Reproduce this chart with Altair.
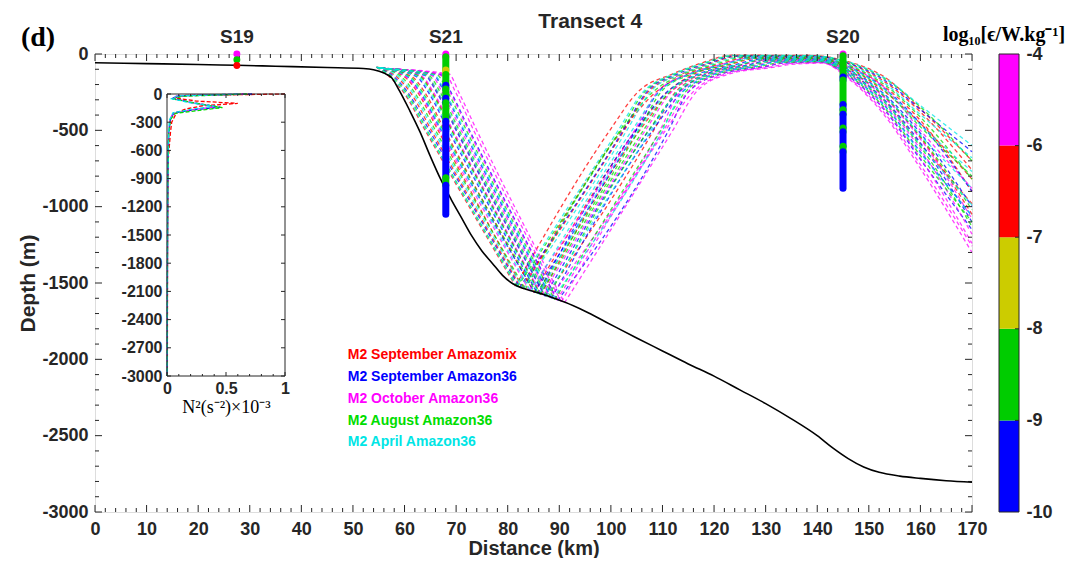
import altair as alt
import pandas as pd

DARK = "#262626"
SANS = "Liberation Sans"
SERIF = "Liberation Serif"
W, H = 877, 458

# ---------------- axes ticks ----------------
X_MAJOR = list(range(0, 171, 10))
X_MINOR = [v for v in range(0, 171, 2) if v % 10]
Y_MAJOR = list(range(-3000, 1, 500))
Y_MINOR = [v for v in range(-3000, 1, 100) if v % 500]

# ---------------- bathymetry ----------------
BATHY_X = [0, 10, 20, 27.5, 35, 45, 52, 54, 56, 57.5, 59, 61, 63, 65, 67, 69, 71, 73, 75, 77,
           79, 81, 83, 85, 87, 89, 91, 95, 99, 105, 110, 115, 120, 125, 130, 135, 140, 143, 146, 149,
           152, 156, 160, 165, 170]
BATHY_Z = [-57, -63, -69, -74, -80, -88, -95, -103, -125, -155, -240, -370, -510, -670, -820, -950, -1070, -1190, -1290, -1370,
           -1450, -1505, -1535, -1555, -1575, -1600, -1625, -1685, -1755, -1860, -1945, -2030, -2110, -2200, -2290, -2390, -2500, -2580, -2650, -2705,
           -2740, -2765, -2780, -2795, -2805]

# ---------------- runs / ray paths ----------------
RUNS = ["M2 September Amazomix", "M2 September Amazon36", "M2 October Amazon36",
        "M2 August Amazon36", "M2 April Amazon36"]
RUN_COLORS = ["#ff0000", "#0000ff", "#ff00ff", "#00dd00", "#00e5e5"]

# each ray: x (km) and depth (m); vertex 4 is the bottom reflection
RAYS_SEP_AMAZOMIX = [
    ([54.5, 57.1, 59.8, 64.0, 81.5, 99.8, 105.2, 112.0, 117.5, 123.5, 139.0, 146, 153, 160, 170],
     [-85, -150, -250, -500, -1520, -500, -250, -130, -60, -8, -10, -50, -150, -360, -700]),
    ([54.7, 58.5, 61.1, 65.2, 82.6, 102.6, 107.2, 113.8, 119.2, 124.8, 139.2, 146, 153, 160, 170],
     [-88, -150, -250, -500, -1533, -500, -250, -130, -63, -15, -16, -63, -180, -380, -760]),
    ([54.9, 60.0, 62.5, 66.5, 83.0, 102.2, 108.7, 114.8, 121.2, 126.4, 139.5, 146, 153, 160, 170],
     [-88, -150, -250, -500, -1540, -500, -250, -130, -66, -23, -22, -78, -213, -435, -900]),
    ([55.1, 61.5, 63.9, 67.8, 85.1, 104.9, 110.9, 116.2, 123.0, 127.9, 139.8, 146, 153, 160, 170],
     [-90, -150, -250, -500, -1562, -500, -250, -130, -70, -31, -29, -92, -245, -455, -820]),
    ([55.3, 63.1, 65.4, 69.2, 86.4, 105.6, 111.5, 117.7, 125.1, 129.5, 140.0, 146, 153, 160, 170],
     [-90, -145, -250, -500, -1577, -500, -250, -130, -73, -39, -36, -107, -280, -548, -1050]),
    ([55.4, 64.2, 66.4, 70.2, 87.4, 108.3, 112.5, 118.8, 126.5, 130.6, 140.2, 146, 153, 160, 170],
     [-92, -140, -250, -500, -1588, -500, -250, -130, -76, -45, -41, -118, -305, -590, -980]),
]
RAYS_SEP_AMAZON36 = [
    ([54.6, 58.0, 60.6, 64.8, 82.3, 102.4, 106.9, 113.0, 118.7, 124.5, 139.2, 146, 153, 160, 170],
     [-86, -150, -250, -500, -1529, -500, -250, -130, -62, -13, -14, -59, -170, -364, -640]),
    ([55.0, 60.6, 63.0, 67.1, 85.2, 104.9, 109.2, 115.4, 121.9, 127.0, 139.6, 146, 153, 160, 170],
     [-89, -150, -250, -500, -1562, -500, -250, -130, -68, -26, -25, -83, -225, -456, -900]),
    ([55.2, 62.3, 64.6, 68.5, 85.8, 104.8, 110.8, 117.0, 124.1, 128.7, 139.9, 146, 153, 160, 170],
     [-90, -148, -250, -500, -1570, -500, -250, -130, -71, -35, -33, -100, -263, -519, -1000]),
    ([55.4, 64.0, 66.2, 70.0, 87.2, 107.4, 113.2, 118.6, 126.2, 130.4, 140.2, 146, 153, 160, 170],
     [-91, -142, -250, -500, -1586, -500, -250, -130, -75, -44, -40, -116, -300, -582, -1100]),
    ([55.6, 65.6, 67.7, 71.4, 88.5, 108.1, 113.8, 120.1, 128.2, 132.0, 140.5, 146, 153, 160, 170],
     [-92, -138, -250, -500, -1601, -500, -250, -130, -79, -52, -47, -131, -335, -641, -1060]),
    ([55.8, 67.0, 69.0, 72.6, 89.7, 111.2, 115.0, 121.5, 130.0, 133.4, 140.7, 146, 153, 160, 170],
     [-94, -135, -250, -500, -1615, -500, -250, -130, -82, -60, -53, -145, -365, -691, -1150]),
]
RAYS_OCT_AMAZON36 = [
    ([54.9, 60.3, 62.8, 66.8, 84.2, 104.6, 109.0, 115.2, 121.6, 126.8, 139.6, 146, 153, 160, 170],
     [-89, -150, -250, -500, -1551, -500, -250, -130, -67, -25, -24, -81, -220, -500, -880]),
    ([55.3, 63.3, 65.6, 69.4, 86.6, 106.7, 111.7, 117.9, 125.3, 129.7, 140.1, 146, 153, 160, 170],
     [-91, -145, -250, -500, -1579, -500, -250, -130, -74, -40, -37, -109, -285, -557, -1080]),
    ([55.6, 65.2, 67.3, 71.0, 88.2, 109.5, 113.4, 119.7, 127.7, 131.6, 140.4, 146, 153, 160, 170],
     [-93, -140, -250, -500, -1597, -500, -250, -130, -78, -50, -45, -127, -325, -624, -1180]),
    ([55.8, 66.8, 68.8, 72.4, 89.5, 110.2, 114.9, 121.3, 129.7, 133.2, 140.7, 146, 153, 160, 170],
     [-94, -136, -250, -500, -1612, -500, -250, -130, -81, -58, -52, -142, -360, -683, -1240]),
    ([55.9, 67.9, 69.9, 73.4, 90.4, 110.6, 115.9, 122.3, 131.1, 134.3, 140.9, 146, 153, 160, 170],
     [-95, -133, -250, -500, -1623, -500, -250, -130, -84, -64, -57, -153, -385, -725, -1259]),
    ([56.0, 68.6, 70.5, 74.0, 91.0, 112.0, 116.5, 123.0, 132.0, 135.0, 141.0, 146, 153, 160, 170],
     [-96, -130, -250, -500, -1630, -500, -250, -130, -85, -68, -60, -160, -400, -750, -1300]),
]
RAYS_AUG_AMAZON36 = [
    ([54.6, 57.6, 60.3, 64.4, 81.9, 101.8, 106.5, 112.5, 118.1, 124.0, 139.1, 146, 153, 160, 170],
     [-86, -150, -250, -500, -1524, -500, -250, -130, -61, -10, -12, -54, -160, -347, -700]),
    ([54.8, 59.4, 61.9, 66.0, 83.4, 102.0, 108.1, 114.2, 120.4, 125.8, 139.4, 146, 153, 160, 170],
     [-88, -150, -250, -500, -1542, -500, -250, -130, -65, -20, -20, -72, -200, -414, -820]),
    ([55.0, 61.1, 63.5, 67.5, 85.6, 105.4, 109.7, 115.8, 122.6, 127.5, 139.7, 146, 153, 160, 170],
     [-90, -150, -250, -500, -1566, -500, -250, -130, -69, -29, -28, -89, -238, -477, -800]),
    ([55.3, 62.9, 65.2, 69.1, 86.3, 106.3, 111.3, 117.6, 124.8, 129.3, 140.0, 146, 153, 160, 170],
     [-91, -146, -250, -500, -1575, -500, -250, -130, -73, -38, -35, -105, -275, -540, -1020]),
    ([55.5, 64.7, 66.9, 70.6, 87.8, 107.3, 112.9, 119.3, 127.1, 131.1, 140.3, 146, 153, 160, 170],
     [-92, -141, -250, -500, -1593, -500, -250, -130, -77, -48, -43, -123, -315, -607, -1130]),
    ([55.7, 66.3, 68.4, 72.0, 89.1, 109.7, 114.4, 120.8, 129.1, 132.7, 140.6, 146, 153, 160, 170],
     [-94, -137, -250, -500, -1608, -500, -250, -130, -80, -56, -50, -138, -350, -666, -1100]),
]
RAYS_APR_AMAZON36 = [
    ([54.5, 57.3, 60.0, 64.2, 81.7, 101.4, 106.2, 112.2, 117.8, 123.7, 139.0, 146, 153, 160, 170],
     [-85, -150, -250, -500, -1522, -500, -250, -130, -61, -9, -11, -52, -155, -338, -600]),
    ([54.7, 58.9, 61.5, 65.6, 83.0, 103.1, 107.6, 113.7, 119.8, 125.3, 139.3, 146, 153, 160, 170],
     [-87, -150, -250, -500, -1538, -500, -250, -130, -64, -18, -18, -68, -190, -397, -680]),
    ([55.0, 60.8, 63.2, 67.2, 84.5, 104.1, 109.3, 115.4, 122.1, 127.1, 139.6, 146, 153, 160, 170],
     [-89, -150, -250, -500, -1555, -500, -250, -130, -68, -27, -26, -85, -230, -464, -770]),
    ([55.2, 62.6, 64.9, 68.8, 86.1, 105.3, 111.1, 117.4, 124.5, 129.1, 140.0, 146, 153, 160, 170],
     [-90, -147, -250, -500, -1573, -500, -250, -130, -72, -37, -34, -103, -270, -532, -880]),
    ([55.4, 64.3, 66.5, 70.3, 87.5, 107.8, 112.7, 119.0, 126.7, 130.8, 140.3, 146, 153, 160, 170],
     [-92, -142, -250, -500, -1589, -500, -250, -130, -76, -46, -42, -119, -308, -595, -990]),
    ([55.6, 65.8, 67.9, 71.6, 88.7, 110.0, 113.9, 120.3, 128.5, 132.2, 140.5, 146, 153, 160, 170],
     [-93, -138, -250, -500, -1604, -500, -250, -130, -79, -54, -48, -134, -340, -649, -1060]),
]
RAYS = dict(zip(RUNS, [RAYS_SEP_AMAZOMIX, RAYS_SEP_AMAZON36, RAYS_OCT_AMAZON36,
                       RAYS_AUG_AMAZON36, RAYS_APR_AMAZON36]))
BOTTOM_VERTEX = 4

# legend text positions (km, m)
LEGEND_X = 49
LEGEND_Y = [-1972, -2116, -2260, -2404, -2541]

# ---------------- stations ----------------
STATIONS = ["S19", "S21", "S20"]
STATION_X = [27.5, 68, 145]
S19_Z = [0, -38, -75]
S19_EPS = [-5, -8.5, -6.5]
S21_TOP = [0, -18, -105, -135, -205, -230, -290, -320, -440, -810, -860]
S21_BOT = [-18, -105, -135, -205, -230, -290, -320, -440, -810, -860, -1050]
S21_EPS = [-5, -8.5, -7.5, -8.5, -9.5, -8.5, -9.5, -8.5, -9.5, -8.5, -9.5]
S20_TOP = [0, -12, -150, -170, -330, -365, -395, -485, -510, -605, -640]
S20_BOT = [-12, -150, -170, -330, -365, -395, -485, -510, -605, -640, -880]
S20_EPS = [-5, -8.5, -9.5, -8.5, -9.5, -8.5, -9.5, -8.5, -9.5, -8.5, -9.5]

# ---------------- colorbar ----------------
CB_EDGES = [-10, -9, -8, -7, -6, -4]
CB_COLORS = ["#0000ff", "#00cc00", "#cccc00", "#ff0000", "#ff00ff"]

# ---------------- inset N2 profiles (x1e-3 s^-2, m) ----------------
N2_Z = {
    RUNS[0]: [0, -15, -40, -75, -100, -125, -160, -200, -300, -400, -700, -1500, -3000],
    RUNS[1]: [0, -20, -45, -90, -140, -165, -200, -260, -400, -800, -1800, -3000],
    RUNS[2]: [0, -20, -50, -100, -135, -170, -210, -280, -450, -900, -2000, -3000],
    RUNS[3]: [0, -25, -55, -110, -145, -170, -205, -270, -420, -900, -2000, -3000],
    RUNS[4]: [0, -20, -50, -95, -130, -160, -200, -280, -500, -1000, -2200, -3000],
}
N2_V = {
    RUNS[0]: [1.0, 0.15, 0.06, 0.25, 0.6, 0.3, 0.16, 0.08, 0.04, 0.03, 0.01, 0.005, 0.003],
    RUNS[1]: [0.72, 0.1, 0.05, 0.2, 0.45, 0.25, 0.06, 0.03, 0.015, 0.008, 0.004, 0.002],
    RUNS[2]: [0.65, 0.08, 0.05, 0.25, 0.42, 0.2, 0.05, 0.025, 0.012, 0.006, 0.003, 0.002],
    RUNS[3]: [0.68, 0.12, 0.06, 0.3, 0.47, 0.3, 0.07, 0.03, 0.015, 0.007, 0.003, 0.002],
    RUNS[4]: [0.6, 0.09, 0.04, 0.2, 0.4, 0.22, 0.05, 0.02, 0.01, 0.005, 0.003, 0.002],
}
INSET_Y_TICKS = list(range(-3000, 1, 300))
INSET_X_TICKS = [0, 0.5, 1]
INSET_X_MINOR = [0.1, 0.2, 0.3, 0.4, 0.6, 0.7, 0.8, 0.9]

# inset placement inside plot (px)
IX0, IX1, IY0, IY1 = 72, 190, 40, 322
# colorbar placement (px, relative to plot origin)
CX0, CX1 = 904, 924

# ---------------- data frames ----------------
ray_rows = []
for run, rays in RAYS.items():
    for ri, (xs, zs) in enumerate(rays):
        for k, (x, z) in enumerate(zip(xs, zs)):
            # descending leg up to the bottom reflection, ascending leg after it
            if k <= BOTTOM_VERTEX:
                ray_rows.append(dict(run=run, ray=f"{run}#{ri}#d", k=k, x=x, z=z))
            if k >= BOTTOM_VERTEX:
                ray_rows.append(dict(run=run, ray=f"{run}#{ri}#u", k=k, x=x, z=z))
ray_df = pd.DataFrame(ray_rows)
bathy_df = pd.DataFrame({"x": BATHY_X, "z": BATHY_Z})

seg_rows = []
for sx, tops, bots, eps in [(STATION_X[1], S21_TOP, S21_BOT, S21_EPS),
                            (STATION_X[2], S20_TOP, S20_BOT, S20_EPS)]:
    for t, b, e in zip(tops, bots, eps):
        seg_rows.append(dict(x=sx, top=t, bot=b, eps=e))
seg_df = pd.DataFrame(seg_rows)
s19_df = pd.DataFrame({"x": [STATION_X[0]] * len(S19_Z), "z": S19_Z, "eps": S19_EPS})
stn_df = pd.DataFrame({"name": STATIONS, "x": STATION_X})
leg_df = pd.DataFrame({"run": RUNS, "x": [LEGEND_X] * len(RUNS), "z": LEGEND_Y})

n2_rows = []
for run in RUNS:
    for k, (v, z) in enumerate(zip(N2_V[run], N2_Z[run])):
        n2_rows.append(dict(run=run, k=k, v=v, z=z))
n2_df = pd.DataFrame(n2_rows)

NCB = len(CB_EDGES) - 1
cb_df = pd.DataFrame({"lo": list(range(NCB)), "hi": list(range(1, NCB + 1)),
                      "eps": [(a + b) / 2 for a, b in zip(CB_EDGES[:-1], CB_EDGES[1:])],
                      "c0": [0] * NCB, "c1": [1] * NCB})

# ---------------- scales ----------------
xs_main = alt.Scale(domain=[0, 170], nice=False, zero=False)
ys_main = alt.Scale(domain=[-3000, 0], nice=False, zero=False)
run_scale = alt.Scale(domain=RUNS, range=RUN_COLORS)
eps_scale = alt.Scale(type="threshold", domain=CB_EDGES[1:-1], range=CB_COLORS)


def ax(**kw):
    base = dict(grid=False, ticks=False, domain=False, labelFont=SANS,
                labelFontWeight="bold", labelColor=DARK, titleFont=SANS,
                titleFontWeight="bold", titleColor=DARK, labelFlush=False,
                labelOverlap=False, labelExpr="datum.value + ''")
    base.update(kw)
    return alt.Axis(**base)


X_AXIS = ax(values=X_MAJOR, title="Distance (km)", labelFontSize=18, titleFontSize=20,
            labelPadding=8, titlePadding=0)
Y_AXIS = ax(values=Y_MAJOR, title="Depth (m)", labelFontSize=18, titleFontSize=21,
            labelPadding=7, titlePadding=3)


def xq(f, **kw):
    return alt.X(f, scale=xs_main, axis=None, **kw)


def yq(f, **kw):
    return alt.Y(f, scale=ys_main, axis=None, **kw)


def tick_layer(vals, orient, length):
    df = pd.DataFrame({"v": vals})
    base = alt.Chart(df).mark_rule(color=DARK, strokeWidth=1)
    if orient == "bottom":
        return base.encode(x=xq("v:Q"), y=alt.value(H), y2=alt.value(H - length))
    if orient == "top":
        return base.encode(x=xq("v:Q"), y=alt.value(0), y2=alt.value(length))
    if orient == "left":
        return base.encode(y=yq("v:Q"), x=alt.value(0), x2=alt.value(length))
    return base.encode(y=yq("v:Q"), x=alt.value(W), x2=alt.value(W - length))


rays_layer = alt.Chart(ray_df).mark_line(strokeDash=[4, 3], strokeWidth=1.3, opacity=0.75,
                                         interpolate="monotone").encode(
    x=alt.X("x:Q", scale=xs_main, axis=X_AXIS),
    y=alt.Y("z:Q", scale=ys_main, axis=Y_AXIS),
    color=alt.Color("run:N", scale=run_scale, legend=None),
    detail="ray:N",
    order="k:Q",
)
bathy_layer = alt.Chart(bathy_df).mark_line(color="black", strokeWidth=1.6, interpolate="monotone").encode(
    x=xq("x:Q"), y=yq("z:Q"))
seg_layer = alt.Chart(seg_df).mark_rule(strokeWidth=7, strokeCap="round").encode(
    x=xq("x:Q"), y=yq("top:Q"), y2="bot:Q",
    stroke=alt.Stroke("eps:Q", scale=eps_scale, legend=None))
s19_layer = alt.Chart(s19_df).mark_circle(size=48, opacity=1).encode(
    x=xq("x:Q"), y=yq("z:Q"), fill=alt.Fill("eps:Q", scale=eps_scale, legend=None))
stn_text = alt.Chart(stn_df).mark_text(font=SANS, fontWeight="bold", fontSize=19, color=DARK,
                                       baseline="middle").encode(
    x=xq("x:Q"), y=alt.value(-17), text="name:N")
leg_text = alt.Chart(leg_df).mark_text(font=SANS, fontWeight="bold", fontSize=14, align="left",
                                       baseline="middle").encode(
    x=xq("x:Q"), y=yq("z:Q"), text="run:N",
    color=alt.Color("run:N", scale=run_scale, legend=None))
title_text = alt.Chart(pd.DataFrame({"t": ["Transect 4"], "x": [96]})).mark_text(
    font=SANS, fontWeight="bold", fontSize=21, color=DARK, baseline="middle").encode(
    x=xq("x:Q"), y=alt.value(-32), text="t:N")
panel_text = alt.Chart(pd.DataFrame({"t": ["(d)"]})).mark_text(
    font=SERIF, fontWeight="bold", fontSize=28, color="black", baseline="middle").encode(
    x=alt.value(-57), y=alt.value(-16), text="t:N")

# ---------------- inset ----------------
xs_in = alt.Scale(domain=[0, 1], range=[IX0, IX1], nice=False, zero=False)
ys_in = alt.Scale(domain=[-3000, 0], range=[IY1, IY0], nice=False, zero=False)

INSET_X_AXIS = ax(orient="bottom", offset=-(H - IY1), values=INSET_X_TICKS,
                  title="N²(s⁻²)×10⁻³", titleFont=SERIF, titleFontWeight="normal",
                  titleFontSize=18, labelFontSize=16, labelPadding=4, titlePadding=2,
                  titleColor="black")
INSET_Y_AXIS = ax(orient="left", offset=-IX0, values=INSET_Y_TICKS, title=None,
                  labelFontSize=16, labelPadding=5)

frame_df = pd.DataFrame({"x0": [0], "x1": [1], "y0": [-3000], "y1": [0]})
inset_lines = alt.Chart(n2_df).mark_line(strokeDash=[4, 2], strokeWidth=1.3).encode(
    x=alt.X("v:Q", scale=xs_in, axis=INSET_X_AXIS),
    y=alt.Y("z:Q", scale=ys_in, axis=INSET_Y_AXIS),
    color=alt.Color("run:N", scale=run_scale, legend=None),
    detail="run:N", order="k:Q")
inset_frame = alt.Chart(frame_df).mark_rect(fillOpacity=0, stroke=DARK, strokeWidth=1).encode(
    x=alt.X("x0:Q", scale=xs_in, axis=None), x2="x1:Q",
    y=alt.Y("y0:Q", scale=ys_in, axis=None), y2="y1:Q")


def inset_ticks(vals, side, length):
    df = pd.DataFrame({"v": vals})
    base = alt.Chart(df).mark_rule(color=DARK, strokeWidth=1)
    if side == "left":
        return base.encode(y=alt.Y("v:Q", scale=ys_in, axis=None), x=alt.value(IX0), x2=alt.value(IX0 + length))
    if side == "right":
        return base.encode(y=alt.Y("v:Q", scale=ys_in, axis=None), x=alt.value(IX1), x2=alt.value(IX1 - length))
    if side == "bottom":
        return base.encode(x=alt.X("v:Q", scale=xs_in, axis=None), y=alt.value(IY1), y2=alt.value(IY1 - length))
    return base.encode(x=alt.X("v:Q", scale=xs_in, axis=None), y=alt.value(IY0), y2=alt.value(IY0 + length))


# ---------------- colorbar ----------------
xs_cb = alt.Scale(domain=[0, 1], range=[CX0, CX1], nice=False, zero=False)
ys_cb = alt.Scale(domain=[0, NCB], range=[H, 0], nice=False, zero=False)
cb_label_expr = "[" + ",".join(f"'{v}'" for v in CB_EDGES) + "][datum.value]"
CB_AXIS = ax(orient="right", offset=CX1 - W, values=list(range(NCB + 1)), title=None,
             labelFontSize=18, labelPadding=7, labelExpr=cb_label_expr)

cb_rects = alt.Chart(cb_df).mark_rect().encode(
    x=alt.X("c0:Q", scale=xs_cb, axis=None), x2="c1:Q",
    y=alt.Y("lo:Q", scale=ys_cb, axis=CB_AXIS), y2="hi:Q",
    fill=alt.Fill("eps:Q", scale=eps_scale, legend=None))
cb_frame = alt.Chart(pd.DataFrame({"c0": [0], "c1": [1], "lo": [0], "hi": [NCB]})).mark_rect(
    fillOpacity=0, stroke=DARK, strokeWidth=1).encode(
    x=alt.X("c0:Q", scale=xs_cb, axis=None), x2="c1:Q",
    y=alt.Y("lo:Q", scale=ys_cb, axis=None), y2="hi:Q")
cb_ticks = alt.Chart(pd.DataFrame({"v": list(range(1, NCB))})).mark_rule(
    color=DARK, strokeWidth=1).encode(
    y=alt.Y("v:Q", scale=ys_cb, axis=None), x=alt.value(CX1), x2=alt.value(CX1 - 4))
cb_title = alt.Chart(pd.DataFrame({"t": ["log₁₀[ϵ/W.kg⁻¹]"]})).mark_text(
    font=SERIF, fontWeight="bold", fontSize=20, color="black", baseline="middle").encode(
    x=alt.value((CX0 + CX1) / 2 - 5), y=alt.value(-19), text="t:N")

layers = [
    rays_layer,
    tick_layer(X_MAJOR, "bottom", 7), tick_layer(X_MINOR, "bottom", 4),
    tick_layer(X_MAJOR, "top", 7), tick_layer(X_MINOR, "top", 4),
    tick_layer(Y_MAJOR, "left", 7), tick_layer(Y_MINOR, "left", 4),
    tick_layer(Y_MAJOR, "right", 7), tick_layer(Y_MINOR, "right", 4),
    bathy_layer, seg_layer, s19_layer, stn_text, leg_text, title_text, panel_text,
    inset_lines, inset_frame,
    inset_ticks(INSET_Y_TICKS, "left", 4), inset_ticks(INSET_Y_TICKS, "right", 4),
    inset_ticks(INSET_X_TICKS, "bottom", 4), inset_ticks(INSET_X_MINOR, "bottom", 2),
    inset_ticks(INSET_X_TICKS, "top", 4), inset_ticks(INSET_X_MINOR, "top", 2),
    cb_rects, cb_frame, cb_ticks, cb_title,
]

chart = alt.layer(*layers).resolve_scale(
    x="independent", y="independent", color="independent",
    fill="independent", stroke="independent",
).properties(
    width=W, height=H,
    autosize=alt.AutoSizeParams(type="none"),
    padding={"left": 87, "top": 46, "right": 107, "bottom": 46},
    background="white",
).configure_view(stroke=DARK, strokeWidth=1).configure(font=SANS)

chart.save("out.html", embed_options={"renderer": "svg", "actions": False})
